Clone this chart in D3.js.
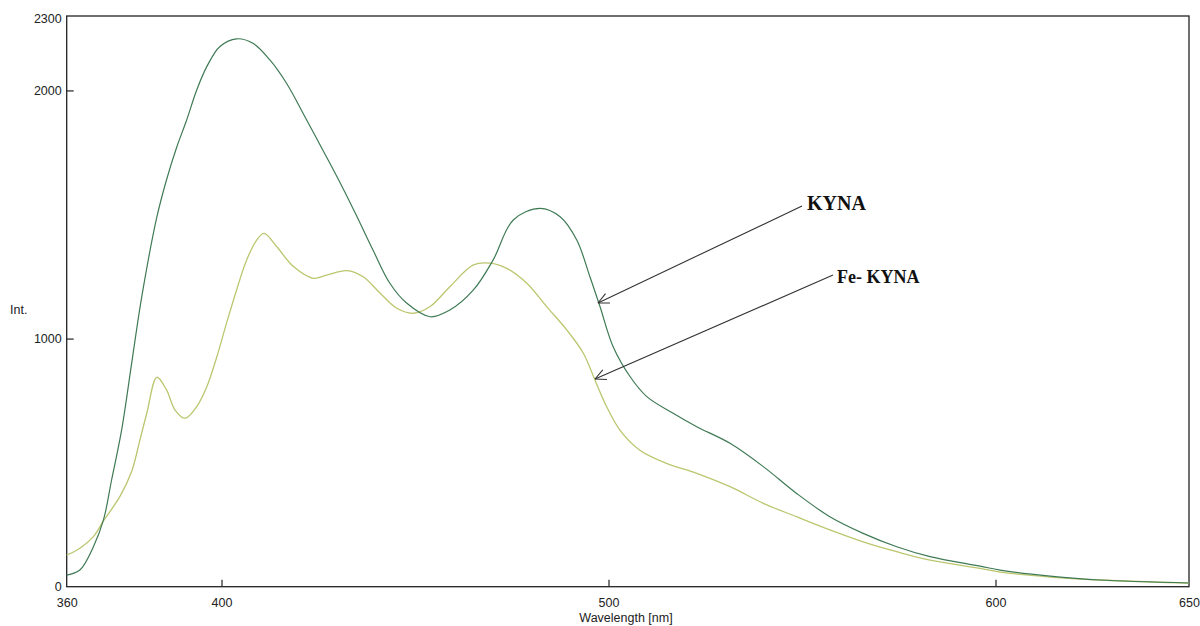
<!DOCTYPE html>
<html>
<head>
<meta charset="utf-8">
<script src="https://cdn.jsdelivr.net/npm/d3@7"></script>
<style>
  body { margin: 0; background: #fff; overflow: hidden; }
  text { font-family: "Liberation Sans", Arial, sans-serif; }
</style>
</head>
<body>
<div id="chart"></div>
<script>
// KYNA emission spectrum (dark green)
var kynaWl  = [360, 363.4, 366.9, 369.5, 371.6, 374.2, 376.8, 379.4, 383.3, 385.8, 388.4, 391, 393.6, 396.2, 399.6, 403.9, 408.1, 412.5, 416.8, 422, 427.2, 431.4, 434.9, 439.2, 443.5, 447.9, 453.9, 459, 465.1, 470.2, 475.4, 482.3, 487.5, 491.8, 495.2, 497.8, 501.2, 505.6, 509.9, 516.7, 522.8, 531.4, 540, 548.6, 557.2, 565.8, 574.5, 583.1, 596, 601.2, 614.1, 627, 650];
var kynaInt = [47, 67, 161, 269, 430, 632, 902, 1169, 1490, 1640, 1770, 1881, 2002, 2096, 2177, 2208, 2190, 2123, 2029, 1881, 1730, 1605, 1495, 1355, 1223, 1142, 1088, 1115, 1196, 1317, 1478, 1525, 1491, 1397, 1249, 1129, 967, 846, 766, 699, 645, 578, 484, 376, 282, 215, 161, 121, 83, 67, 43, 27, 15];

// Fe-KYNA emission spectrum (yellow green)
var feWl  = [360, 363.4, 366.9, 369.5, 373.8, 376.8, 378.9, 380.7, 383.3, 385.8, 388, 390.6, 393.6, 396.2, 398.8, 401.3, 403.9, 406.5, 409.1, 411, 414.3, 418.6, 423.7, 427.2, 432.4, 436.6, 441, 445.3, 449.6, 453.9, 459, 465.1, 469.4, 473.7, 478.9, 484, 489.2, 493.5, 496.5, 499.5, 503, 508.1, 515, 522.8, 531.4, 540, 548.6, 557.2, 565.8, 574.5, 583.1, 596, 601.2, 614.1, 627, 650];
var feInt = [127, 155, 202, 265, 365, 465, 590, 699, 844, 793, 712, 679, 726, 806, 927, 1062, 1196, 1317, 1397, 1424, 1370, 1290, 1243, 1256, 1274, 1249, 1183, 1122, 1102, 1129, 1209, 1297, 1304, 1283, 1223, 1129, 1035, 941, 833, 726, 630, 550, 497, 457, 403, 336, 282, 229, 181, 141, 107, 74, 59, 39, 27, 15];

var xTicks = [360, 400, 500, 600, 650];
var yTicks = [0, 1000, 2000, 2300];

var W = 1200, H = 626;
var margin = {top: 16, right: 11, bottom: 39.3, left: 66.7},
    width = W - margin.left - margin.right,
    height = H - margin.top - margin.bottom;

var svg = d3.select("#chart")
    .append("svg")
    .attr("width", W)
    .attr("height", H);

var g = svg.append("g")
    .attr("transform", "translate(" + margin.left + "," + margin.top + ")");

var x = d3.scaleLinear().domain([360, 650]).range([0, width]);
var y = d3.scaleLinear().domain([0, 2300]).range([height, 0]);

// frame
g.append("rect")
    .attr("width", width).attr("height", height)
    .attr("fill", "none").attr("stroke", "#222").attr("stroke-width", 1.3);

// axes, ticks point inward
var xAxis = g.append("g")
    .attr("transform", "translate(0," + height + ")")
    .call(d3.axisBottom(x).tickValues(xTicks).tickSize(-7).tickPadding(11).tickFormat(d3.format("d")));
var yAxis = g.append("g")
    .call(d3.axisLeft(y).tickValues(yTicks).tickSize(-7).tickPadding(5).tickFormat(d3.format("d")));

[xAxis, yAxis].forEach(function(a) {
    a.select(".domain").remove();
    a.selectAll(".tick line").attr("stroke", "#222").attr("stroke-width", 1.2);
    a.selectAll(".tick text").attr("fill", "#222").style("font-size", "12.5px");
});
// no tick marks at the frame corners
xAxis.selectAll(".tick").filter(function(d) { return d === 360 || d === 650; }).select("line").remove();
yAxis.selectAll(".tick").filter(function(d) { return d === 0 || d === 2300; }).select("line").remove();
yAxis.selectAll(".tick").filter(function(d) { return d === 0; }).select("text").attr("dy", "0.3em");
yAxis.selectAll(".tick").filter(function(d) { return d === 2300; }).select("text").attr("dy", "0.5em");

// axis titles
svg.append("text")
    .attr("x", 626).attr("y", 622)
    .attr("text-anchor", "middle")
    .attr("fill", "#222")
    .style("font-size", "12.5px")
    .text("Wavelength [nm]");
svg.append("text")
    .attr("x", 10).attr("y", 314)
    .attr("fill", "#222")
    .style("font-size", "12.5px")
    .text("Int.");

// spectra
var line = d3.line()
    .x(function(d) { return x(d[0]); })
    .y(function(d) { return y(d[1]); })
    .curve(d3.curveCatmullRom.alpha(0.5));

g.append("path")
    .datum(d3.zip(feWl, feInt))
    .attr("fill", "none")
    .attr("stroke", "#bcc66e")
    .attr("stroke-width", 1.3)
    .attr("d", line);

g.append("path")
    .datum(d3.zip(kynaWl, kynaInt))
    .attr("fill", "none")
    .attr("stroke", "#3f7a55")
    .attr("stroke-width", 1.2)
    .attr("d", line);

// annotation arrows
function arrow(x1, y1, x2, y2) {
    svg.append("line")
        .attr("x1", x1).attr("y1", y1).attr("x2", x2).attr("y2", y2)
        .attr("stroke", "#333").attr("stroke-width", 1.1);
    var ang = Math.atan2(y1 - y2, x1 - x2), len = 12, spread = 0.45;
    [ang - spread, ang + spread].forEach(function(a) {
        svg.append("line")
            .attr("x1", x2).attr("y1", y2)
            .attr("x2", x2 + len * Math.cos(a)).attr("y2", y2 + len * Math.sin(a))
            .attr("stroke", "#333").attr("stroke-width", 1.1);
    });
}
arrow(802, 206, 598, 303);
arrow(833, 275, 595, 379);

svg.append("text")
    .attr("x", 807).attr("y", 210)
    .style("font-family", "'Liberation Serif', 'Times New Roman', serif")
    .style("font-weight", "bold")
    .style("font-size", "20px")
    .attr("fill", "#111")
    .text("KYNA");
svg.append("text")
    .attr("x", 837).attr("y", 283)
    .style("font-family", "'Liberation Serif', 'Times New Roman', serif")
    .style("font-weight", "bold")
    .style("font-size", "18px")
    .attr("fill", "#111")
    .text("Fe- KYNA");
</script>
</body>
</html>
